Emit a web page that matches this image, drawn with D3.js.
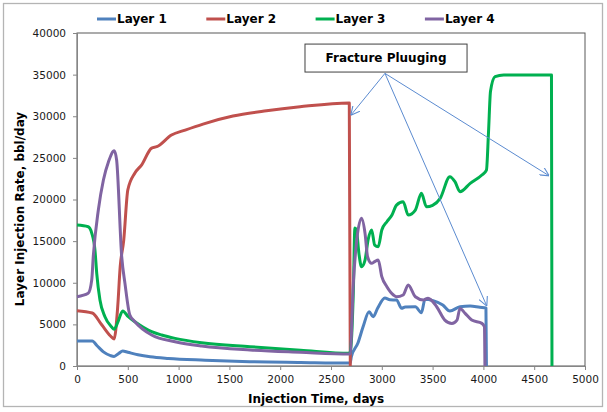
<!DOCTYPE html>
<html>
<head>
<meta charset="utf-8">
<script src="https://cdn.jsdelivr.net/npm/d3@7"></script>
<style>
  body { margin: 0; background: #fff; }
  text { font-family: "DejaVu Sans", Verdana, sans-serif; }
</style>
</head>
<body>
<div id="chart"></div>
<script>
// series data: [injection time (days), layer injection rate (bbl/day)]
const layer1 = [[0,3000],[150,3000],[200,2400],[260,1700],[330,1250],[365,1150],[410,1500],[450,1800],[500,1650],[600,1350],[720,1100],[900,900],[1260,700],[1700,520],[2200,430],[2680,360],[2690,400],[2700,1100],[2765,2760],[2815,4680],[2875,6520],[2915,5920],[2960,6970],[3030,8170],[3080,7950],[3145,7930],[3195,6930],[3230,7090],[3330,7120],[3390,6400],[3425,8010],[3505,7840],[3600,7330],[3670,6600],[3770,7120],[3870,7200],[3965,7050],[4025,6970],[4030,0]];
const layer2 = [[0,6640],[150,6360],[245,4920],[330,3600],[365,3240],[400,7000],[425,11900],[460,15130],[500,21140],[570,23180],[635,24140],[735,26180],[785,26340],[930,27740],[1065,28340],[1240,29060],[1535,30020],[1865,30660],[2195,31140],[2680,31600],[2690,0]];
const layer3 = [[0,16930],[110,16730],[145,15970],[177,13900],[194,11170],[226,7930],[275,5920],[341,4680],[365,4400],[400,5200],[450,6600],[505,5920],[570,5320],[735,4120],[833,3720],[965,3320],[1227,2800],[1703,2320],[2200,1900],[2680,1520],[2690,1700],[2720,9000],[2735,16570],[2750,16330],[2775,13500],[2800,11920],[2835,12730],[2865,15130],[2900,16330],[2930,14530],[2965,14330],[3000,16330],[3050,17330],[3100,18130],[3145,19330],[3210,19730],[3260,18130],[3330,18730],[3390,20740],[3440,19130],[3500,19300],[3575,20140],[3670,22740],[3720,22140],[3770,20940],[3870,21940],[3985,22940],[4030,23540],[4050,28000],[4070,33000],[4115,34750],[4200,34950],[4670,34950],[4675,0]];
const layer4 = [[0,8320],[110,8730],[145,10330],[160,13130],[210,18740],[260,22340],[310,24540],[367,25860],[390,24740],[440,13130],[472,9930],[520,6130],[570,5320],[735,3720],[965,2920],[1227,2400],[1703,1920],[2200,1650],[2680,1440],[2690,1500],[2720,9970],[2750,14730],[2800,17740],[2835,15930],[2860,13130],[2900,12330],[2930,12530],[2965,12730],[3000,10730],[3050,9530],[3115,8530],[3145,8320],[3210,8530],[3260,9730],[3330,8320],[3410,7930],[3455,8130],[3540,7120],[3620,5520],[3690,5120],[3740,5520],[3770,6920],[3820,6320],[3885,5520],[3985,5120],[4010,4720],[4015,0]];

const seriesNames = ["Layer 1", "Layer 2", "Layer 3", "Layer 4"];
const seriesColors = ["#4f81bd", "#c0504d", "#00b050", "#8064a2"];
const xTicks = [0, 500, 1000, 1500, 2000, 2500, 3000, 3500, 4000, 4500, 5000];
const yTicks = [0, 5000, 10000, 15000, 20000, 25000, 30000, 35000, 40000];

// annotation, in data units
const noteText = "Fracture Pluuging";
const noteBox = [[2244, 38670], [3839, 35310]];
const noteFrom = [3031, 35150];
const noteTargets = [[2700, 30200], [4030, 7300], [4640, 22900]];

//set up the dimensions of the chart
const W = 607, H = 412;
const margin = { top: 33, right: 22, bottom: 46, left: 77 };
const width = W - margin.left - margin.right;
const height = H - margin.top - margin.bottom;

const root = d3.select("#chart").append("svg")
  .attr("width", W)
  .attr("height", H);

//outer chart frame
root.append("rect")
  .attr("x", 3.5).attr("y", 3.5)
  .attr("width", 599).attr("height", 403)
  .attr("fill", "#fff")
  .attr("stroke", "#b4b4b4")
  .attr("stroke-width", 1.3);

const svg = root.append("g")
  .attr("transform", "translate(" + margin.left + "," + margin.top + ")");

const x = d3.scaleLinear().domain([0, 5000]).range([0, width]);
const y = d3.scaleLinear().domain([0, 40000]).range([height, 0]);

//plot area border
svg.append("rect")
  .attr("x", 0).attr("y", 0)
  .attr("width", width).attr("height", height)
  .attr("fill", "none")
  .attr("stroke", "#595959")
  .attr("stroke-width", 1);

//axes
const xAxis = d3.axisBottom(x).tickValues(xTicks).tickSize(4).tickPadding(6).tickFormat(d3.format("d"));
const yAxis = d3.axisLeft(y).tickValues(yTicks).tickSize(4).tickPadding(7).tickFormat(d3.format("d"));

const gx = svg.append("g").attr("transform", "translate(0," + height + ")").call(xAxis);
const gy = svg.append("g").call(yAxis);
[gx, gy].forEach(g => {
  g.select(".domain").attr("stroke", "#868686");
  g.selectAll(".tick line").attr("stroke", "#868686");
  g.selectAll(".tick text")
    .style("font-size", "10.5px")
    .style("font-family", "'DejaVu Sans', Verdana, sans-serif")
    .attr("fill", "#1a1a1a");
});

//lines
const line = d3.line()
  .x(d => x(d[0]))
  .y(d => y(d[1]))
  .curve(d3.curveMonotoneX);

const allSeries = [layer1, layer2, layer3, layer4];
svg.selectAll(".series")
  .data(allSeries)
  .enter()
  .append("path")
  .attr("class", "series")
  .attr("d", d => line(d))
  .attr("fill", "none")
  .attr("stroke", (d, i) => seriesColors[i])
  .attr("stroke-width", 3)
  .attr("stroke-linejoin", "round");

//annotation arrows
root.append("defs").append("marker")
  .attr("id", "arrow")
  .attr("viewBox", "0 0 10 10")
  .attr("refX", 9).attr("refY", 5)
  .attr("markerWidth", 9).attr("markerHeight", 9)
  .attr("markerUnits", "userSpaceOnUse")
  .attr("orient", "auto")
  .append("path")
  .attr("d", "M0,0 L10,5 L0,10")
  .attr("fill", "none")
  .attr("stroke", "#5b8bd0")
  .attr("stroke-width", 1.2);

svg.selectAll(".arrow")
  .data(noteTargets)
  .enter()
  .append("line")
  .attr("class", "arrow")
  .attr("x1", x(noteFrom[0])).attr("y1", y(noteFrom[1]))
  .attr("x2", d => x(d[0])).attr("y2", d => y(d[1]))
  .attr("stroke", "#5b8bd0")
  .attr("stroke-width", 1)
  .attr("marker-end", "url(#arrow)");

svg.append("rect")
  .attr("x", x(noteBox[0][0]))
  .attr("y", y(noteBox[0][1]))
  .attr("width", x(noteBox[1][0]) - x(noteBox[0][0]))
  .attr("height", y(noteBox[1][1]) - y(noteBox[0][1]))
  .attr("fill", "#fff")
  .attr("stroke", "#404040")
  .attr("stroke-width", 1);

svg.append("text")
  .attr("x", (x(noteBox[0][0]) + x(noteBox[1][0])) / 2)
  .attr("y", (y(noteBox[0][1]) + y(noteBox[1][1])) / 2)
  .attr("dy", "0.36em")
  .attr("text-anchor", "middle")
  .style("font-size", "12px")
  .style("font-weight", "bold")
  .text(noteText);

//axis titles
root.append("text")
  .attr("x", 316).attr("y", 403)
  .attr("text-anchor", "middle")
  .style("font-size", "12px")
  .style("font-weight", "bold")
  .text("Injection Time, days");

root.append("text")
  .attr("transform", "translate(24,209) rotate(-90)")
  .attr("text-anchor", "middle")
  .style("font-size", "12px")
  .style("font-weight", "bold")
  .text("Layer Injection Rate, bbl/day");

//legend
const legend = root.selectAll(".legend")
  .data(seriesNames)
  .enter()
  .append("g")
  .attr("class", "legend")
  .attr("transform", (d, i) => "translate(" + (97 + i * 109.3) + ",19)");

legend.append("line")
  .attr("x1", 0).attr("x2", 19)
  .attr("y1", 0).attr("y2", 0)
  .attr("stroke", (d, i) => seriesColors[i])
  .attr("stroke-width", 3);

legend.append("text")
  .attr("x", 20).attr("y", 0)
  .attr("dy", "0.36em")
  .style("font-size", "12px")
  .style("font-weight", "bold")
  .text(d => d);
</script>
</body>
</html>
